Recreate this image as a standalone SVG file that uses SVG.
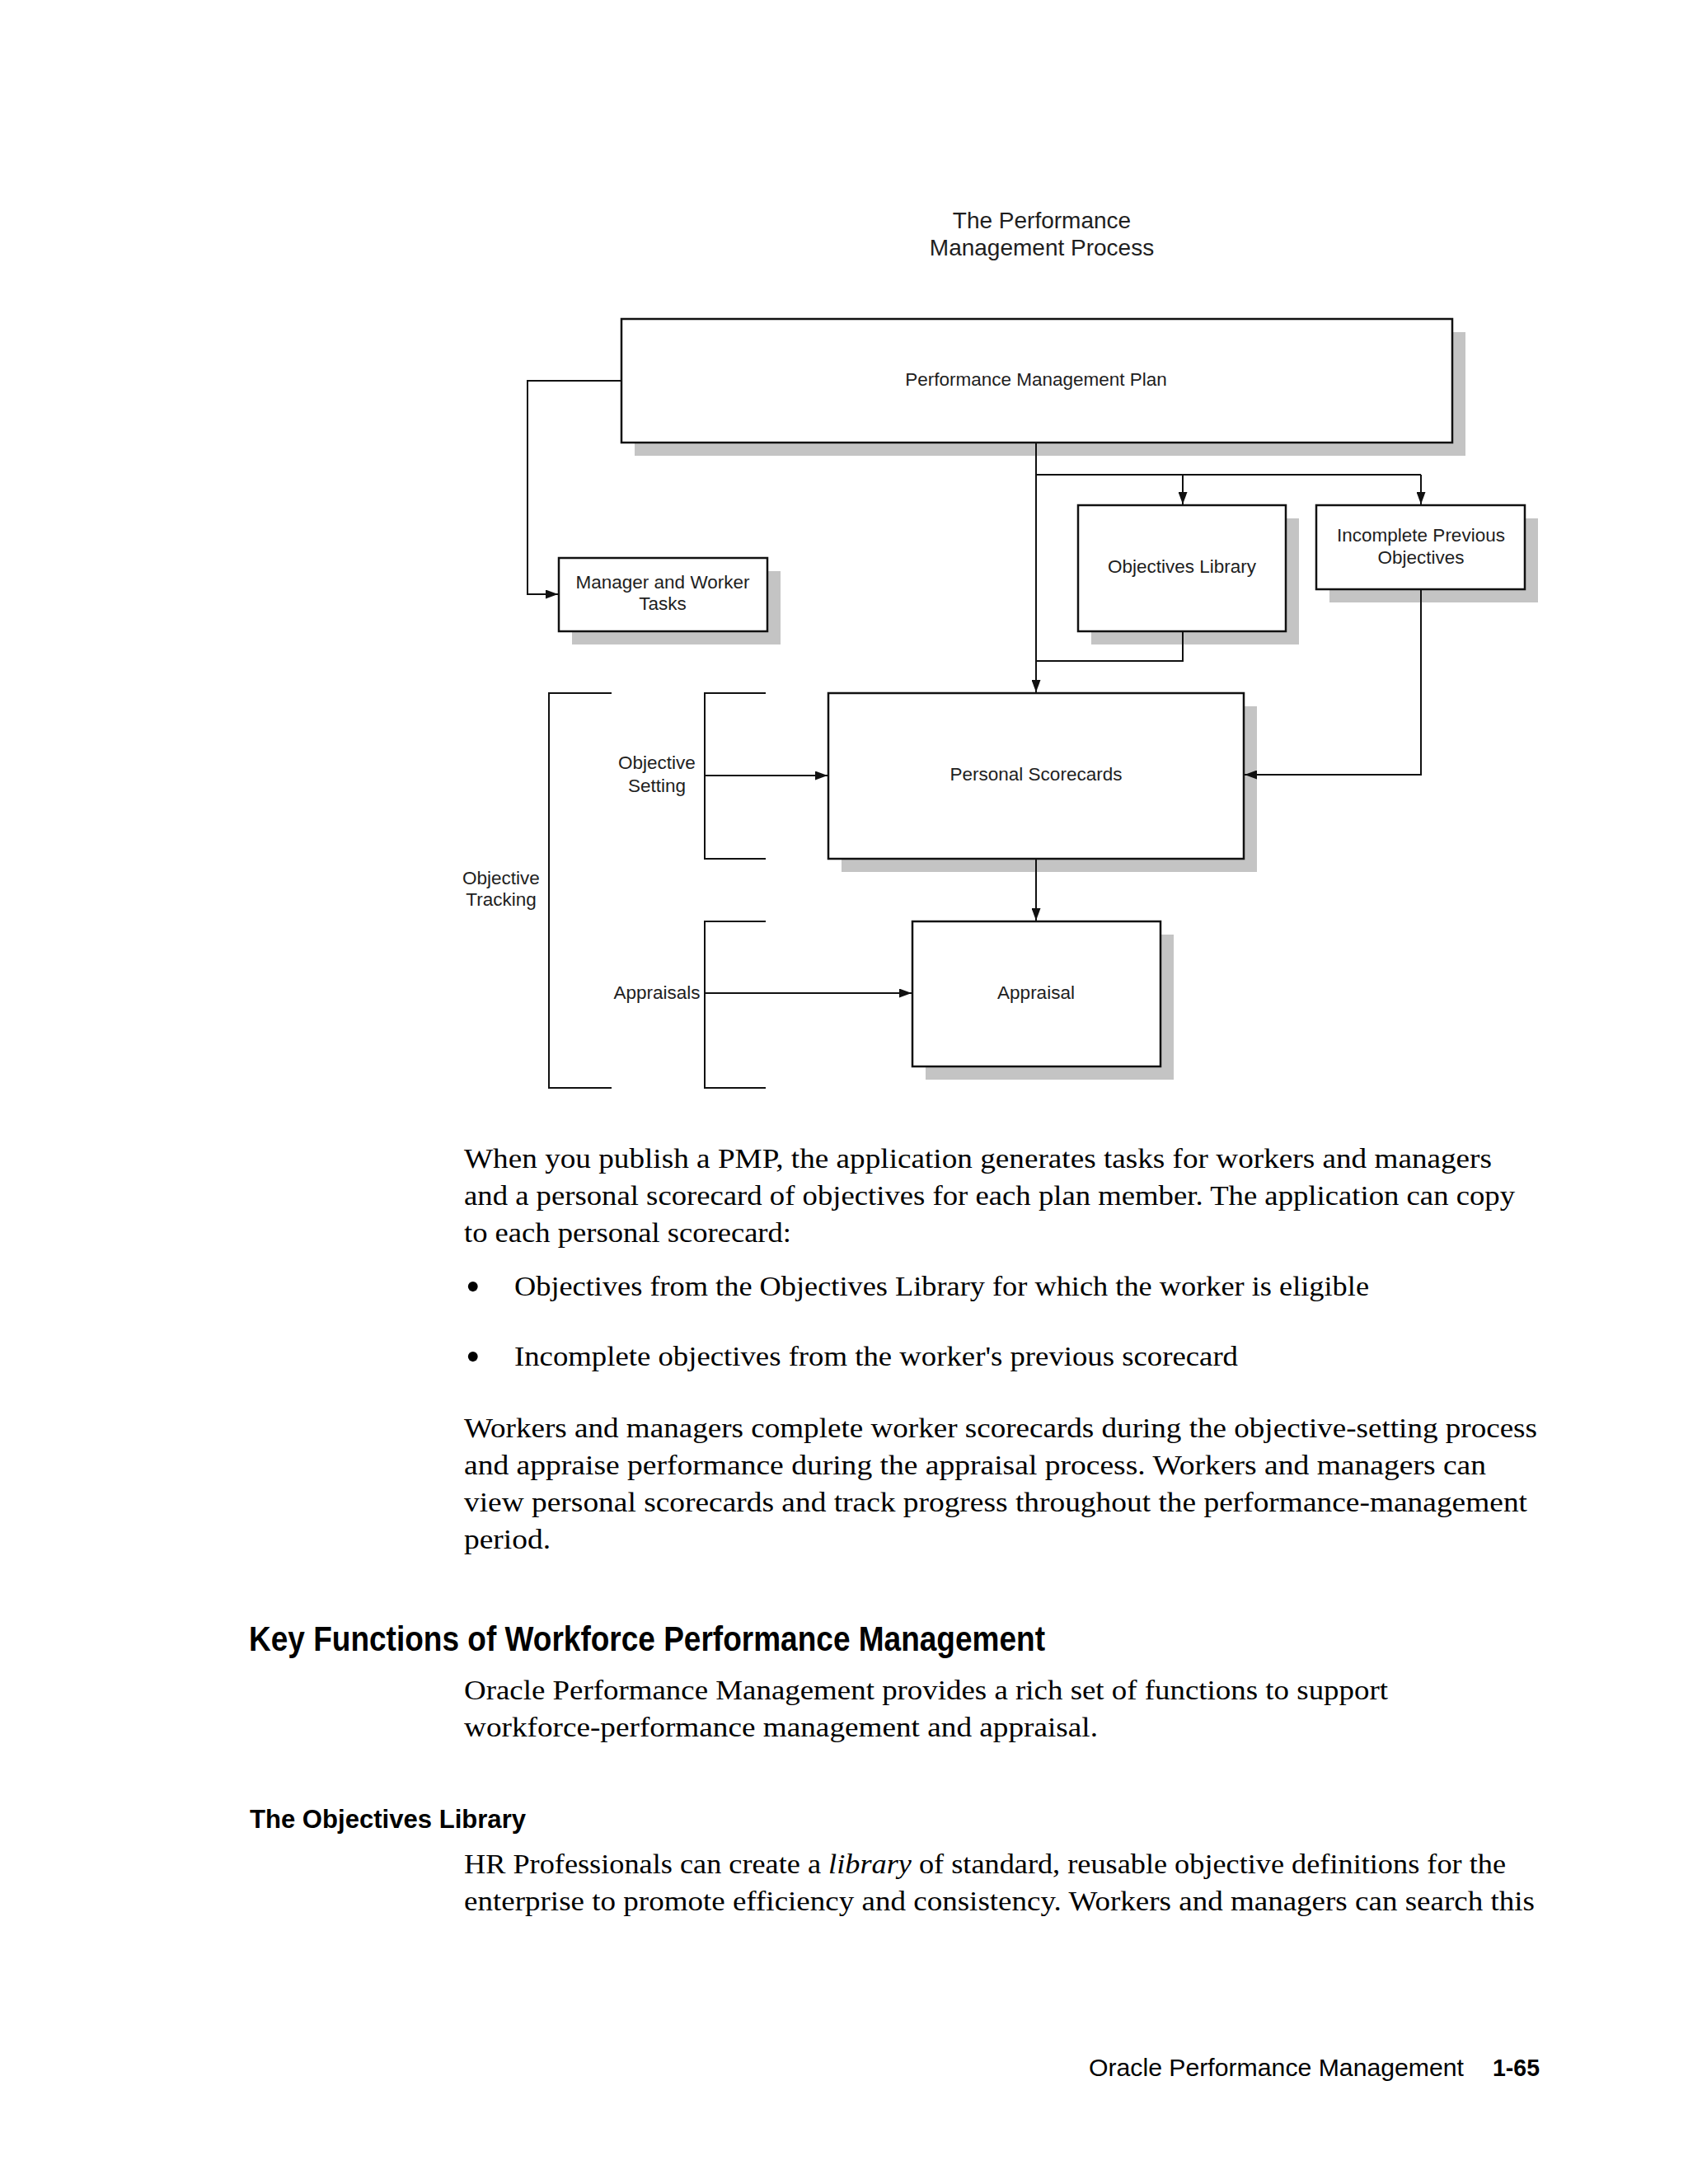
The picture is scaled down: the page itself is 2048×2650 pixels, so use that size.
<svg xmlns="http://www.w3.org/2000/svg" width="2048" height="2650" viewBox="0 0 2048 2650">
<style>
.bg{fill:#ffffff}
.box{fill:#ffffff;stroke:#111111;stroke-width:2.5}
.shadow{fill:#c4c4c4}
.lbl{font-family:"Liberation Sans",Arial,sans-serif;font-size:22.5px;fill:#1e1e1e;text-anchor:middle}
.ttl{font-family:"Liberation Sans",Arial,sans-serif;font-size:28px;fill:#1e1e1e;text-anchor:middle}
.ln{fill:none;stroke:#111111;stroke-width:2}
.arr{fill:none;stroke:#111111;stroke-width:2;marker-end:url(#ah)}
.body{font-family:"Liberation Serif","Times New Roman",serif;font-size:33px;fill:#000000}
.bul{font-family:"Liberation Serif","Times New Roman",serif;font-size:50px;fill:#000000}
.h1{font-family:"Liberation Sans",Arial,sans-serif;font-size:42px;font-weight:bold;fill:#000000}
.h2{font-family:"Liberation Sans",Arial,sans-serif;font-size:31px;font-weight:bold;fill:#000000}
.ft{font-family:"Liberation Sans",Arial,sans-serif;font-size:30px;fill:#000000}
</style>
<defs>
<marker id="ah" markerUnits="userSpaceOnUse" markerWidth="15" markerHeight="11" refX="15" refY="5.5" orient="auto">
<path d="M0,0 L15,5.5 L0,11 z" fill="#111111"/>
</marker>
</defs>
<rect class="bg" x="0" y="0" width="2048" height="2650"/>

<g id="title">
<text class="ttl" x="1264" y="277">The Performance</text>
<text class="ttl" x="1264" y="310">Management Process</text>
</g>

<g id="pmp">
<rect class="shadow" x="770" y="403" width="1008" height="150"/>
<rect class="box" x="754" y="387" width="1008" height="150"/>
<text class="lbl" x="1257" y="468">Performance Management Plan</text>
</g>

<g id="tasks">
<rect class="shadow" x="694" y="693" width="253" height="89"/>
<rect class="box" x="678" y="677" width="253" height="89"/>
<text class="lbl" x="804" y="714">Manager and Worker</text>
<text class="lbl" x="804" y="740">Tasks</text>
</g>

<g id="objlib">
<rect class="shadow" x="1324" y="629" width="252" height="153"/>
<rect class="box" x="1308" y="613" width="252" height="153"/>
<text class="lbl" x="1434" y="695">Objectives Library</text>
</g>

<g id="incomplete">
<rect class="shadow" x="1613" y="629" width="253" height="102"/>
<rect class="box" x="1597" y="613" width="253" height="102"/>
<text class="lbl" x="1724" y="657">Incomplete Previous</text>
<text class="lbl" x="1724" y="684">Objectives</text>
</g>

<g id="scorecards">
<rect class="shadow" x="1021" y="857" width="504" height="201"/>
<rect class="box" x="1005" y="841" width="504" height="201"/>
<text class="lbl" x="1257" y="947">Personal Scorecards</text>
</g>

<g id="appraisal">
<rect class="shadow" x="1123" y="1134" width="301" height="176"/>
<rect class="box" x="1107" y="1118" width="301" height="176"/>
<text class="lbl" x="1257" y="1212">Appraisal</text>
</g>

<g id="brackets">
<path class="ln" d="M929,841 H855 V1042 H929"/>
<path class="ln" d="M929,1118 H855 V1320 H929"/>
<path class="ln" d="M742,841 H666 V1320 H742"/>
<text class="lbl" x="797" y="933">Objective</text>
<text class="lbl" x="797" y="961">Setting</text>
<text class="lbl" x="797" y="1212">Appraisals</text>
<text class="lbl" x="608" y="1073">Objective</text>
<text class="lbl" x="608" y="1099">Tracking</text>
</g>

<g id="connectors">
<path class="arr" d="M754,462 H640 V721 H677"/>
<path class="arr" d="M1257,538 V840"/>
<path class="ln" d="M1257,576 H1724"/>
<path class="arr" d="M1435,576 V612"/>
<path class="arr" d="M1724,576 V612"/>
<path class="ln" d="M1435,766 V802 H1257"/>
<path class="arr" d="M1724,715 V940 H1510"/>
<path class="arr" d="M855,941 H1004"/>
<path class="arr" d="M1257,1042 V1117"/>
<path class="arr" d="M855,1205 H1106"/>
</g>

<g id="text">
<text class="body" x="563" y="1417" textLength="1247" lengthAdjust="spacingAndGlyphs">When you publish a PMP, the application generates tasks for workers and managers</text>
<text class="body" x="563" y="1462" textLength="1275" lengthAdjust="spacingAndGlyphs">and a personal scorecard of objectives for each plan member. The application can copy</text>
<text class="body" x="563" y="1507" textLength="397" lengthAdjust="spacingAndGlyphs">to each personal scorecard:</text>
<text class="bul" x="565" y="1578">•</text>
<text class="body" x="624" y="1572" textLength="1037" lengthAdjust="spacingAndGlyphs">Objectives from the Objectives Library for which the worker is eligible</text>
<text class="bul" x="565" y="1663">•</text>
<text class="body" x="624" y="1657" textLength="878" lengthAdjust="spacingAndGlyphs">Incomplete objectives from the worker's previous scorecard</text>
<text class="body" x="563" y="1744" textLength="1302" lengthAdjust="spacingAndGlyphs">Workers and managers complete worker scorecards during the objective-setting process</text>
<text class="body" x="563" y="1789" textLength="1240" lengthAdjust="spacingAndGlyphs">and appraise performance during the appraisal process. Workers and managers can</text>
<text class="body" x="563" y="1834" textLength="1290" lengthAdjust="spacingAndGlyphs">view personal scorecards and track progress throughout the performance-management</text>
<text class="body" x="563" y="1879" textLength="105" lengthAdjust="spacingAndGlyphs">period.</text>
<text class="h1" x="302" y="2003" textLength="966" lengthAdjust="spacingAndGlyphs">Key Functions of Workforce Performance Management</text>
<text class="body" x="563" y="2062" textLength="1121" lengthAdjust="spacingAndGlyphs">Oracle Performance Management provides a rich set of functions to support</text>
<text class="body" x="563" y="2107" textLength="769" lengthAdjust="spacingAndGlyphs">workforce-performance management and appraisal.</text>
<text class="h2" x="303" y="2218" textLength="335" lengthAdjust="spacingAndGlyphs">The Objectives Library</text>
<text class="body" x="563" y="2273" textLength="1264" lengthAdjust="spacingAndGlyphs">HR Professionals can create a <tspan font-style="italic">library</tspan> of standard, reusable objective definitions for the</text>
<text class="body" x="563" y="2318" textLength="1299" lengthAdjust="spacingAndGlyphs">enterprise to promote efficiency and consistency. Workers and managers can search this</text>
<text class="ft" x="1321" y="2519" textLength="455" lengthAdjust="spacingAndGlyphs">Oracle Performance Management</text>
<text class="ft" x="1811" y="2519" font-weight="bold" textLength="57" lengthAdjust="spacingAndGlyphs">1-65</text>
</g>
</svg>
